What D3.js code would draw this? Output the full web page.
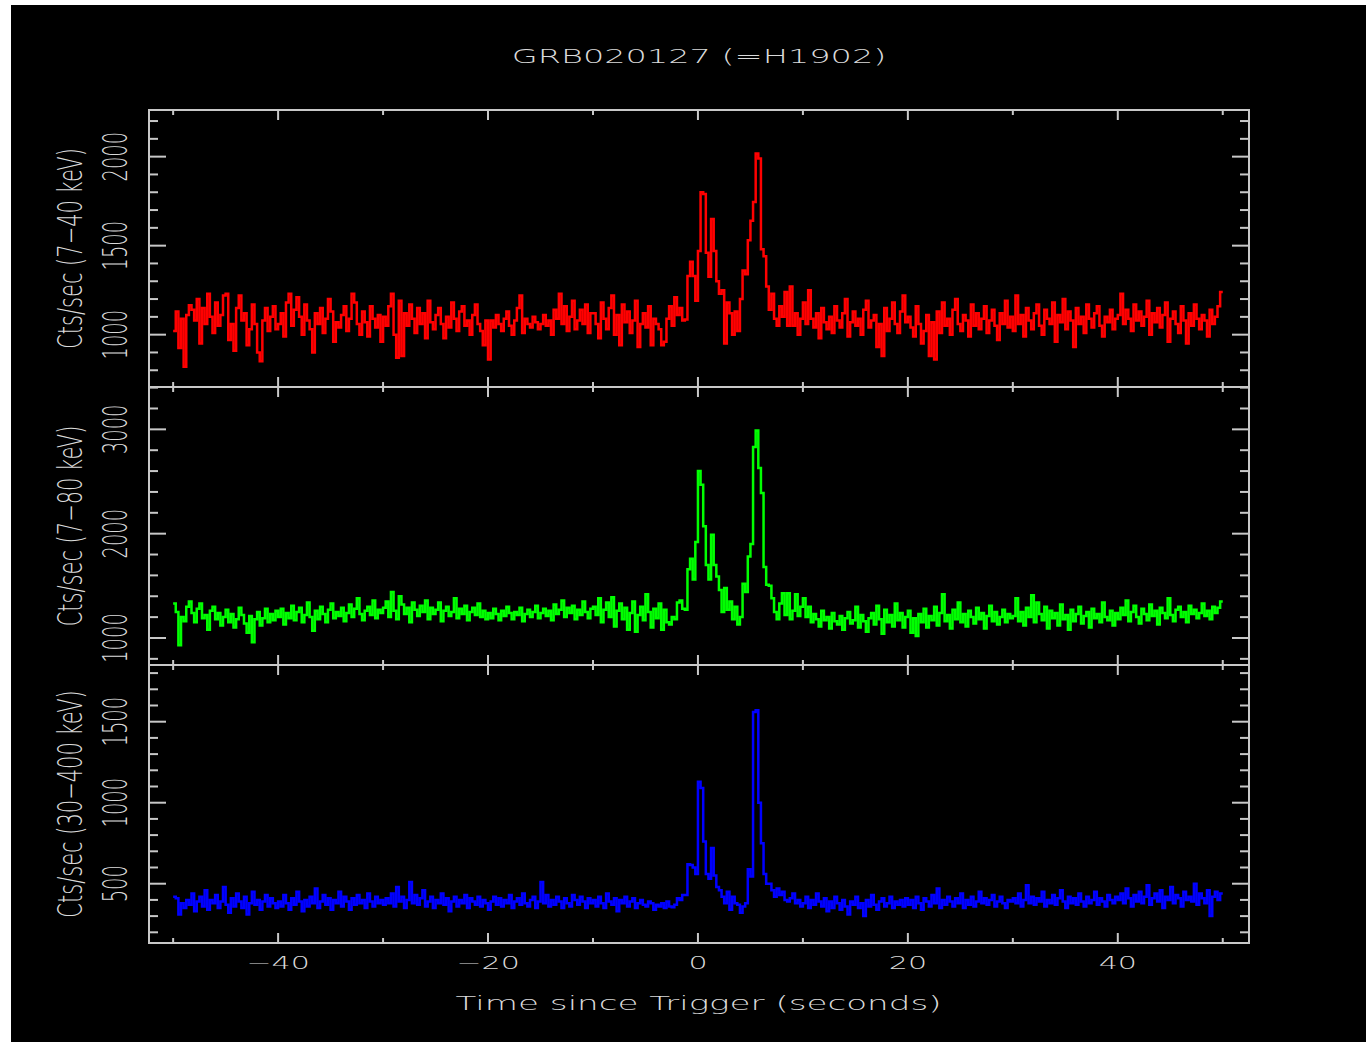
<!DOCTYPE html>
<html><head><meta charset="utf-8">
<script src="https://cdn.jsdelivr.net/npm/d3@7"></script>
<style>html,body{margin:0;padding:0;background:#fff;overflow:hidden}svg{display:block}</style>
</head><body>
<svg id="c" width="1366" height="1042"></svg>
<script>
// ---------------- data ----------------
const title = "GRB020127 (=H1902)";
const xLabel = "Time since Trigger (seconds)";
const panelLabels = ["Cts/sec (7\u221240 keV)", "Cts/sec (7\u221280 keV)", "Cts/sec (30\u2212400 keV)"];
const binStart = -50;      // seconds
const binWidth = 0.25;     // seconds
const timeEnd = 50;

const xMajorTicks = [-40, -20, 0, 20, 40];
const xMinorTicks = [-50, -30, -10, 10, 30, 50];

const topMajor = [1000, 1500, 2000];
const topMinor = [800, 900, 1100, 1200, 1300, 1400, 1600, 1700, 1800, 1900, 2100, 2200];
const midMajor = [1000, 2000, 3000];
const midMinor = [800, 1200, 1400, 1600, 1800, 2200, 2400, 2600, 2800, 3200, 3400];
const botMajor = [500, 1000, 1500];
const botMinor = [200, 300, 400, 600, 700, 800, 900, 1100, 1200, 1300, 1400, 1600, 1700, 1800];

// 7-40 keV, 0.25 s bins from -50 s
const red = [
1020,1130,925,1090,820,1110,1165,1140,1080,1200,950,1150,1060,1230,1100,1010,1180,1050,1110,1220,1230,970,1060,910,1150,1220,1080,1120,940,1030,1170,1060,900,850,1080,1150,1020,1100,1160,1030,
1060,1120,990,1180,1230,1050,1140,1210,1100,1000,1170,1080,1030,900,1120,1060,1150,1010,1090,1200,1130,960,1070,1040,1110,1160,1020,1090,1230,1180,1060,1000,1130,1070,990,1160,1090,1040,1110,960,
1100,1050,1160,1230,1000,870,1190,880,1120,1050,1170,1090,1010,1150,1060,1120,980,1190,1070,1030,1110,1150,1060,980,1100,1040,1180,1090,1020,1130,1160,1050,1080,1000,1110,1170,1060,1020,940,1080,
860,1080,1040,1110,1060,1020,1090,1130,1050,1000,1080,1150,1220,1010,1090,1060,1040,1100,1070,1030,1060,1110,1050,1080,1000,1140,1090,1230,1060,1160,1020,1100,1190,1030,1080,1140,1060,1170,1010,1120,
1120,1060,980,1180,1090,1030,1150,1220,1000,1110,940,1170,1070,1130,1010,1080,1190,930,1060,1120,1040,1160,940,1090,1060,1030,940,960,1090,1160,1050,1210,1110,1150,1080,1085,1330,1410,1330,1190,
1470,1800,1790,1460,1325,1650,1470,1300,1230,1250,950,1180,1120,1000,1130,1020,1200,1360,1340,1530,1640,1745,2017,1990,1480,1440,1270,1140,1230,1090,1050,1160,1100,1240,1050,1270,1050,1120,1000,1090,
1180,1060,1250,1090,1040,1120,980,1150,1070,1030,1100,1010,1160,1080,1040,1120,1200,990,1070,1130,1050,1090,1000,1140,1190,1040,1080,1110,930,1060,880,1150,1020,1090,1180,1060,1010,1130,1220,1070,
1100,1040,990,1160,1060,950,1020,1110,880,1070,860,1130,1010,1180,1050,1090,1000,1140,1200,1060,1020,1110,1080,990,1170,1050,1120,1030,1090,1160,1010,1080,1140,1050,970,1120,1060,1190,1040,1100,
1020,1220,1060,1110,990,1150,1080,1030,1120,1170,1050,1000,1140,1090,1060,1180,960,1110,1070,1200,1030,1130,1080,930,1150,1060,1100,1010,1170,1090,1040,1120,1160,1050,990,1100,1070,1140,1030,1090,
1110,1230,1060,1140,1090,1020,1170,1080,1130,1050,1100,1190,1000,1120,1070,1150,1040,1110,1180,960,1090,1130,1060,1010,1160,1080,950,1120,1050,1170,1090,1030,1110,1080,990,1140,1060,1100,1160,1240
];

// 7-80 keV
const green = [
1330,1250,930,1200,1160,1300,1350,1240,1150,1280,1330,1190,1220,1080,1260,1300,1180,1240,1120,1200,1270,1150,1230,1100,1180,1290,1220,1140,1050,1210,960,1180,1250,1120,1190,1280,1150,1230,1170,1260,
1200,1280,1130,1240,1190,1310,1170,1250,1290,1150,1220,1340,1200,1070,1260,1180,1300,1230,1150,1270,1330,1190,1250,1210,1290,1160,1240,1320,1200,1280,1380,1230,1170,1260,1300,1220,1360,1190,1270,1240,
1290,1350,1200,1440,1260,1180,1400,1320,1230,1290,1150,1340,1270,1210,1310,1250,1360,1180,1290,1230,1270,1340,1160,1260,1300,1210,1250,1380,1190,1280,1230,1310,1170,1250,1290,1220,1330,1200,1260,1180,
1240,1190,1280,1230,1170,1260,1210,1300,1240,1180,1250,1220,1290,1160,1230,1270,1200,1250,1310,1190,1240,1280,1210,1260,1170,1320,1230,1270,1360,1200,1290,1240,1310,1180,1270,1220,1350,1250,1190,1280,
1300,1220,1380,1150,1270,1340,1200,1390,1110,1260,1330,1180,1290,1080,1240,1350,1060,1220,1300,1170,1420,1250,1100,1280,1190,1330,1080,1270,1150,1130,1200,1180,1340,1360,1280,1270,1660,1760,1560,1920,
2600,2470,2070,1700,1560,1990,1700,1590,1460,1250,1480,1270,1350,1180,1300,1130,1200,1520,1440,1780,1900,2830,2990,2630,2390,1680,1510,1500,1380,1250,1180,1330,1430,1220,1430,1180,1260,1420,1210,1300,
1380,1200,1300,1150,1230,1180,1110,1260,1170,1200,1090,1240,1160,1130,1210,1080,1190,1250,1140,1170,1300,1100,1220,1160,1060,1190,1240,1130,1310,1180,1040,1270,1150,1220,1110,1330,1170,1240,1100,1200,
1260,1050,1190,1020,1230,1150,1280,1100,1210,1170,1300,1120,1240,1420,1160,1220,1090,1270,1180,1340,1150,1230,1110,1260,1200,1140,1290,1180,1240,1090,1210,1310,1160,1250,1130,1200,1270,1150,1230,1190,
1210,1380,1160,1250,1120,1290,1200,1410,1150,1340,1230,1170,1300,1090,1260,1190,1240,1120,1320,1180,1220,1080,1270,1160,1230,1300,1140,1210,1250,1100,1280,1190,1230,1150,1340,1200,1170,1260,1120,1240,
1180,1290,1220,1360,1160,1250,1310,1200,1140,1280,1230,1170,1320,1210,1260,1130,1290,1240,1190,1380,1220,1160,1270,1300,1200,1250,1150,1310,1230,1270,1190,1240,1330,1210,1260,1180,1300,1240,1290,1350
];

// 30-400 keV
const blue = [
420,410,310,380,350,400,370,440,330,390,420,360,460,340,400,380,430,350,390,480,370,320,410,360,440,390,350,420,310,380,450,370,400,340,390,430,360,410,380,350,
390,360,430,380,340,410,370,450,390,330,400,360,420,380,470,350,390,430,370,410,340,400,380,450,360,420,390,340,410,370,430,380,400,350,440,390,360,420,380,400,
370,410,380,440,360,480,390,420,350,400,510,380,430,370,410,460,360,390,420,350,400,380,440,370,410,330,390,420,360,400,380,430,350,410,390,370,420,360,400,380,
340,390,420,370,410,360,400,380,430,350,390,410,370,440,380,360,400,420,350,390,510,380,430,360,400,370,420,390,350,410,380,360,430,400,370,420,390,350,410,380,
400,360,420,380,350,440,390,370,410,330,400,380,420,360,390,410,350,380,400,370,360,390,380,340,370,360,380,350,390,360,355,370,410,400,430,430,620,615,600,560,
1130,1090,760,560,530,720,550,480,460,420,380,450,340,420,380,370,320,360,380,590,545,1560,1570,1000,750,560,500,500,460,420,470,430,450,400,390,410,440,380,400,360,
380,420,350,400,370,440,390,360,410,330,390,350,420,380,340,400,360,310,390,370,420,350,380,300,400,360,430,370,340,390,410,360,380,420,350,390,370,400,360,410,
370,400,350,420,380,340,410,390,360,430,380,470,350,400,370,420,390,360,410,380,440,350,400,370,420,360,390,450,380,410,370,400,430,360,390,420,380,350,400,390,
410,380,440,360,400,490,380,420,370,410,390,450,360,400,380,430,370,410,460,390,350,420,380,410,370,440,390,360,420,380,400,450,370,410,390,360,430,400,380,420,
400,440,380,470,410,360,430,390,450,380,420,490,370,410,440,390,460,350,420,400,480,380,430,410,360,450,400,420,390,500,370,440,410,380,460,300,420,450,400,440
];

// ---------------- drawing ----------------
const svg = d3.select("#c");
const FG = "#dadada";
const FONT = "'DejaVu Sans', 'Liberation Sans', sans-serif";
const SX = 1.72;

svg.append("rect").attr("x", 11).attr("y", 5).attr("width", 1355).attr("height", 1037).attr("fill", "#000");

const x = d3.scaleLinear().domain([-52.3, 52.5]).range([149, 1249]);

const panels = [
  { data: red,   color: "#ff0000", domain: [706, 2262],  range: [387, 110], major: topMajor, minor: topMinor, label: panelLabels[0] },
  { data: green, color: "#00ff00", domain: [741, 3406],  range: [665, 387], major: midMajor, minor: midMinor, label: panelLabels[1] },
  { data: blue,  color: "#0000ff", domain: [134, 1850],  range: [943, 665], major: botMajor, minor: botMinor, label: panelLabels[2] }
];

const x0 = x.range()[0], x1 = x.range()[1];

panels.forEach(p => {
  const y = d3.scaleLinear().domain(p.domain).range(p.range);
  const yTop = p.range[1], yBot = p.range[0];
  const g = svg.append("g");

  // data as step histogram
  const pts = p.data.map((v, i) => [binStart + i * binWidth, v]);
  pts.push([timeEnd, p.data[p.data.length - 1]]);
  const line = d3.line().x(d => x(d[0])).y(d => y(d[1])).curve(d3.curveStepAfter);
  g.append("path").attr("d", line(pts)).attr("fill", "none")
    .attr("stroke", p.color).attr("stroke-width", 2.5).attr("stroke-linejoin", "miter");

  // frame
  g.append("rect").attr("x", x0).attr("y", yTop).attr("width", x1 - x0).attr("height", yBot - yTop)
    .attr("fill", "none").attr("stroke", "#c8c8c8").attr("stroke-width", 2);

  // x ticks (top & bottom, inward)
  const xt = [...xMajorTicks.map(v => [v, 10]), ...xMinorTicks.map(v => [v, 5])];
  xt.forEach(([v, len]) => {
    const px = x(v);
    g.append("line").attr("x1", px).attr("x2", px).attr("y1", yBot).attr("y2", yBot - len)
      .attr("stroke", "#c8c8c8").attr("stroke-width", 2);
    g.append("line").attr("x1", px).attr("x2", px).attr("y1", yTop).attr("y2", yTop + len)
      .attr("stroke", "#c8c8c8").attr("stroke-width", 2);
  });

  // y ticks (left & right, inward)
  const yt = [...p.major.map(v => [v, 17]), ...p.minor.map(v => [v, 9])];
  yt.forEach(([v, len]) => {
    const py = y(v);
    g.append("line").attr("x1", x0).attr("x2", x0 + len).attr("y1", py).attr("y2", py)
      .attr("stroke", "#c8c8c8").attr("stroke-width", 2);
    g.append("line").attr("x1", x1).attr("x2", x1 - len).attr("y1", py).attr("y2", py)
      .attr("stroke", "#c8c8c8").attr("stroke-width", 2);
  });

  // y tick labels (rotated)
  p.major.forEach(v => {
    svg.append("text").attr("transform", `translate(127,${y(v)}) rotate(-90) scale(1,1.75)`)
      .attr("text-anchor", "middle").attr("fill", FG).attr("font-family", FONT)
      .attr("font-weight", 200).attr("font-size", 19.5).text(v);
  });

  // y label
  svg.append("text").attr("transform", `translate(82,${(yTop + yBot) / 2}) rotate(-90) scale(1,1.62)`)
    .attr("text-anchor", "middle").attr("fill", FG).attr("font-family", FONT)
    .attr("font-weight", 200).attr("font-size", 21).text(p.label);
});

// x tick labels
xMajorTicks.forEach(v => {
  svg.append("text").attr("transform", `translate(${x(v)},969) scale(${SX},1)`)
    .attr("text-anchor", "middle").attr("fill", FG).attr("font-family", FONT)
    .attr("font-weight", 200).attr("font-size", 17.5).text(v < 0 ? "\u2212" + Math.abs(v) : v);
});

// title and x label
svg.append("text").attr("transform", `translate(699,63) scale(${SX},1)`)
  .attr("text-anchor", "middle").attr("fill", FG).attr("font-family", FONT)
  .attr("font-weight", 200).attr("font-size", 19.5).text(title);
svg.append("text").attr("transform", `translate(698.5,1009.5) scale(1.75,1)`)
  .attr("text-anchor", "middle").attr("fill", FG).attr("font-family", FONT)
  .attr("font-weight", 200).attr("font-size", 19.5).text(xLabel);
</script>
</body></html>
